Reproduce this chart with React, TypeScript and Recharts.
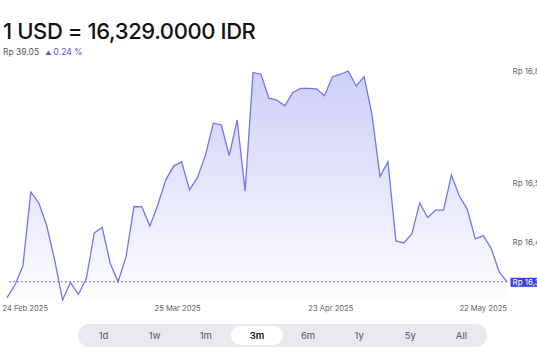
import { AreaChart, Area, XAxis, YAxis, ReferenceLine } from "recharts";

// USD -> IDR daily close, 3 month view
const rates = [
  16290, 16321, 16368, 16551, 16524, 16468, 16383, 16284, 16327, 16298,
  16337, 16450, 16463, 16375, 16329, 16391, 16515, 16514, 16467, 16519,
  16581, 16615, 16626, 16556, 16587, 16642, 16721, 16717, 16641, 16729,
  16553, 16846, 16842, 16783, 16778, 16764, 16797, 16807, 16807, 16806,
  16789, 16836, 16842, 16850, 16813, 16836, 16741, 16589, 16626, 16430,
  16425, 16447, 16524, 16488, 16506, 16506, 16593, 16541, 16508, 16435,
  16443, 16412, 16354, 16329,
];

const dateTickIndex = [2.3, 21.5, 40.8, 60];
const dateTickLabels = ["24 Feb 2025", "25 Mar 2025", "23 Apr 2025", "22 May 2025"];
const priceTicks = [16329, 16427, 16573, 16850];
const currentRate = 16329;
const ranges = ["1d", "1w", "1m", "3m", "6m", "1y", "5y", "All"];
const activeRange = "3m";

const LINE = "#7276ec";
const FONT = "Inter, 'Noto Sans', sans-serif";

// right-hand price labels run past the edge of the card, like the original
function PriceTick(props: any) {
  const { x, y, payload } = props;
  const v = payload.value as number;
  const label = `Rp ${v.toLocaleString("en-US")}`;
  if (v === currentRate) {
    return (
      <g>
        <rect x={x + 3.5} y={y - 4} width={60} height={9} fill="#3d3fe0" />
        <text x={x + 5.5} y={y} dy="0.36em" fontSize={8} fill="#fff" fontFamily={FONT}>
          {label}
        </text>
      </g>
    );
  }
  return (
    <text x={x + 5.5} y={y} dy="0.36em" fontSize={8} fill="#666" fontFamily={FONT}>
      {label}
    </text>
  );
}

export default function App() {
  const data = rates.map((v, i) => ({ i, v }));

  return (
    <div
      style={{
        position: "absolute",
        left: 0,
        top: 0,
        width: 537,
        height: 360,
        overflow: "hidden",
        background: "#fff",
        fontFamily: FONT,
      }}
    >
      <div style={{ position: "absolute", left: 0, top: 0 }}>
        <AreaChart width={600} height={320} data={data} margin={{ top: 71, right: 0, left: 7, bottom: 0 }}>
          <defs>
            <linearGradient id="fx" x1="0" y1="0" x2="0" y2="1">
              <stop offset="0%" stopColor="#7a7eea" stopOpacity={0.62} />
              <stop offset="100%" stopColor="#7a7eea" stopOpacity={0.02} />
            </linearGradient>
          </defs>
          <XAxis
            dataKey="i"
            type="number"
            domain={[0, rates.length - 1]}
            ticks={dateTickIndex}
            interval={0}
            tickFormatter={(v) => dateTickLabels[dateTickIndex.indexOf(v)]}
            axisLine={false}
            tickLine={false}
            tickSize={0}
            tickMargin={6}
            height={20}
            tick={{ fontSize: 7.6, fill: "#666", fontFamily: FONT }}
          />
          <YAxis
            orientation="right"
            width={93}
            domain={["dataMin", "dataMax"]}
            ticks={priceTicks}
            interval={0}
            axisLine={false}
            tickLine={false}
            tickSize={0}
            tickMargin={0}
            tick={<PriceTick />}
          />
          <ReferenceLine y={currentRate} stroke={LINE} strokeDasharray="2 2" strokeWidth={1} />
          <Area
            type="linear"
            dataKey="v"
            stroke={LINE}
            strokeWidth={1.3}
            fill="url(#fx)"
            isAnimationActive={false}
            dot={false}
            activeDot={false}
          />
        </AreaChart>
      </div>

      <div
        style={{
          position: "absolute",
          left: 3,
          top: 20,
          fontSize: 22,
          lineHeight: "22px",
          fontWeight: 500,
          letterSpacing: -0.4,
          color: "#111",
        }}
      >
        1 USD = 16,329.0000 IDR
      </div>
      <div style={{ position: "absolute", left: 3, top: 47, fontSize: 8.5, color: "#555" }}>
        Rp 39.05
        <span style={{ color: "#4f52e0", marginLeft: 6 }}>
          <span style={{ fontSize: 6 }}>▲</span> 0.24 %
        </span>
      </div>

      <div
        style={{
          position: "absolute",
          left: 78,
          top: 324,
          width: 409,
          height: 23,
          borderRadius: 12,
          background: "#e9e9ef",
          display: "flex",
          alignItems: "center",
        }}
      >
        {ranges.map((r) => (
          <div
            key={r}
            style={{
              flex: 1,
              height: 19,
              borderRadius: 10,
              background: r === activeRange ? "#fff" : "transparent",
              display: "flex",
              alignItems: "center",
              justifyContent: "center",
              fontSize: 9.5,
              fontWeight: r === activeRange ? 600 : 400,
              color: r === activeRange ? "#111" : "#555",
            }}
          >
            {r}
          </div>
        ))}
      </div>
    </div>
  );
}
